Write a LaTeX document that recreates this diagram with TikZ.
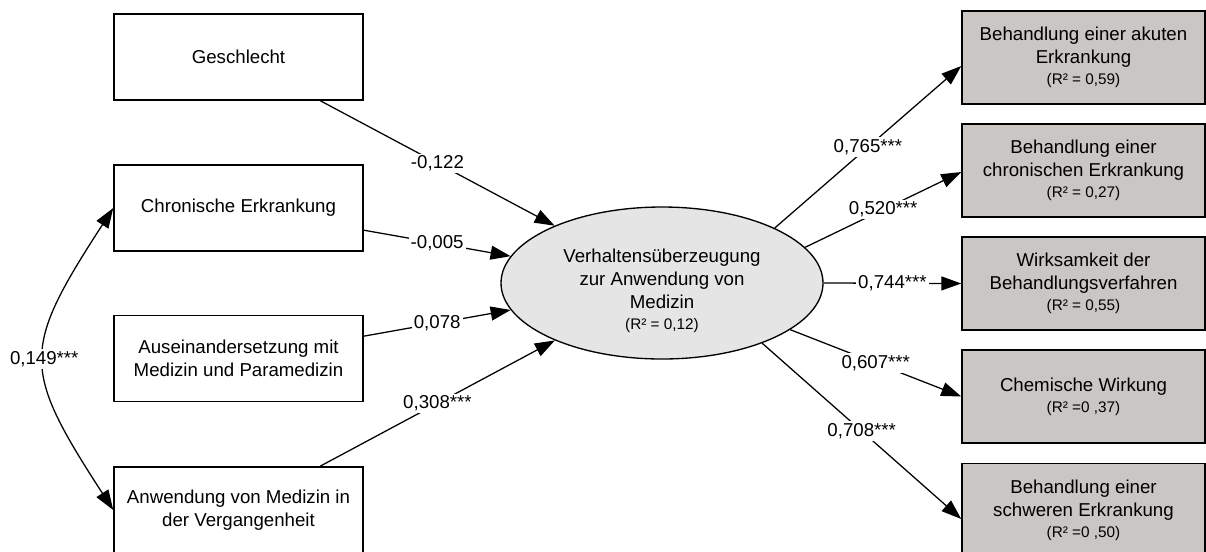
\documentclass[tikz,border=0pt]{standalone}
\usepackage{fontspec}
\setmainfont{Liberation Sans}
\usetikzlibrary{arrows.meta,shapes.geometric,calc}
\definecolor{ellfill}{RGB}{229,229,229}
\definecolor{boxfill}{RGB}{201,198,196}
% small R-squared line under a node title
\newcommand{\rsq}[1]{{\fontsize{11.5}{13.8}\selectfont (R² #1)}}
\begin{document}
\begin{tikzpicture}[x=0.75pt,y=-0.75pt,
  every node/.style={font=\fontsize{14}{17.25}\selectfont, text=black},
  exo/.style={draw, line width=1.1pt, minimum width=186.75pt, minimum height=64.5pt, inner sep=0pt, align=center},
  ind/.style={draw, line width=1.1pt, fill=boxfill, minimum width=182.25pt, minimum height=69.75pt, inner sep=0pt, align=center},
  lat/.style={draw, line width=1pt, fill=ellfill, ellipse, minimum width=241.5pt, minimum height=114pt, inner sep=0pt},
  conn/.style={draw, line width=0.95pt, -{Triangle[length=15pt,width=10.5pt]}},
  conn2/.style={draw, line width=0.95pt, {Triangle[length=15pt,width=10.5pt]}-{Triangle[length=15pt,width=10.5pt]}},
  lbl/.style={fill=white, inner sep=1.5pt}]
\useasboundingbox (0,0) rectangle (1206,551);

% exogenous variables
\node[exo] (g) at (238.5,57)    {Geschlecht};
\node[exo] (c) at (238.5,208)   {Chronische Erkrankung};
\node[exo] (a) at (238.5,358.5) {Auseinandersetzung mit\\Medizin und Paramedizin};
\node[exo] (v) at (238.5,510)   {Anwendung von Medizin in\\der Vergangenheit};

% latent construct and its caption
\node[lat] (e) at (662,283) {};
\node[align=center, inner sep=0pt] (et) at (662,291) {Verhaltensüberzeugung\\zur Anwendung von\\Medizin\\[-1.5pt]\rsq{= 0,12}};

% indicators
\node[ind] (b1) at (1083.5,57.5)  {Behandlung einer akuten\\Erkrankung\\[-1.5pt]\rsq{= 0,59}};
\node[ind] (b2) at (1083.5,170.5) {Behandlung einer\\chronischen Erkrankung\\[-1.5pt]\rsq{= 0,27}};
\node[ind] (b3) at (1083.5,283.5) {Wirksamkeit der\\Behandlungsverfahren\\[-1.5pt]\rsq{= 0,55}};
\node[ind] (b4) at (1083.5,396.5) {Chemische Wirkung\\[-1.5pt]\rsq{=0 ,37}};
\node[ind] (b5) at (1083.5,510)   {Behandlung einer\\schweren Erkrankung\\[-1.5pt]\rsq{=0 ,50}};

% paths into the construct
\draw[conn] (g) -- node[lbl]{-0,122} (e);
\draw[conn] (c) -- node[lbl]{-0,005} (e);
\draw[conn] (a) -- node[lbl]{0,078} (e);
\draw[conn] (v) -- node[lbl]{0,308***} (e);

% loadings
\draw[conn] (e.26.8)  -- node[lbl]{0,765***} ($(b1.west)+(0,8.5)$);
\draw[conn] (e.14.1)  -- node[lbl]{0,520***} ($(b2.west)+(0,1.5)$);
\draw[conn] (e.0)     -- node[lbl]{0,744***} (b3.west);
\draw[conn] (e.-20.6) -- node[lbl]{0,607***} (b4.west);
\draw[conn] (e.-31.8) -- node[lbl]{0,708***} ($(b5.west)+(0,9)$);

% correlation
\draw[conn2] (v.west) .. controls +(-92,-142) and +(-92,142) .. node[lbl]{0,149***} (c.west);
\end{tikzpicture}
\end{document}
